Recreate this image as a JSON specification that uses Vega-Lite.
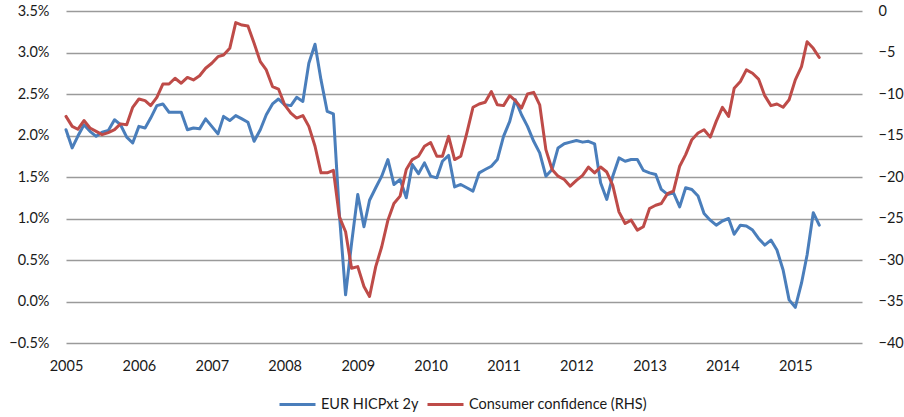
{
  "$schema": "https://vega.github.io/schema/vega-lite/v6.json",
  "width": 796,
  "height": 332,
  "autosize": {"type": "none"},
  "padding": {"left": 66, "top": 11, "right": 42, "bottom": 74},
  "config": {
    "view": {"stroke": null},
    "font": "Lato",
    "axis": {"labelFont": "Lato", "labelFontSize": 14.5, "labelColor": "#1a1a1a", "domain": false, "ticks": false, "title": null},
    "legend": {"labelFont": "Lato", "labelFontSize": 14.5, "labelColor": "#1a1a1a"}
  },
  "data": {"values": [
    {"d":"2005/01/01","hicp":2.07,"cc":-12.7},{"d":"2005/02/01","hicp":1.85,"cc":-13.9},{"d":"2005/03/01","hicp":1.99,"cc":-14.25},{"d":"2005/04/01","hicp":2.13,"cc":-13.2},{"d":"2005/05/01","hicp":2.05,"cc":-14.1},{"d":"2005/06/01","hicp":1.99,"cc":-14.5},{"d":"2005/07/01","hicp":2.04,"cc":-14.9},{"d":"2005/08/01","hicp":2.06,"cc":-14.65},{"d":"2005/09/01","hicp":2.19,"cc":-14.3},{"d":"2005/10/01","hicp":2.13,"cc":-13.6},{"d":"2005/11/01","hicp":1.98,"cc":-13.7},{"d":"2005/12/01","hicp":1.91,"cc":-11.6},
    {"d":"2006/01/01","hicp":2.11,"cc":-10.6},{"d":"2006/02/01","hicp":2.09,"cc":-10.8},{"d":"2006/03/01","hicp":2.21,"cc":-11.4},{"d":"2006/04/01","hicp":2.36,"cc":-10.4},{"d":"2006/05/01","hicp":2.38,"cc":-8.8},{"d":"2006/06/01","hicp":2.28,"cc":-8.8},{"d":"2006/07/01","hicp":2.28,"cc":-8.1},{"d":"2006/08/01","hicp":2.28,"cc":-8.7},{"d":"2006/09/01","hicp":2.07,"cc":-8.0},{"d":"2006/10/01","hicp":2.09,"cc":-8.3},{"d":"2006/11/01","hicp":2.08,"cc":-7.8},{"d":"2006/12/01","hicp":2.20,"cc":-6.9},
    {"d":"2007/01/01","hicp":2.11,"cc":-6.3},{"d":"2007/02/01","hicp":2.02,"cc":-5.5},{"d":"2007/03/01","hicp":2.23,"cc":-5.3},{"d":"2007/04/01","hicp":2.18,"cc":-4.5},{"d":"2007/05/01","hicp":2.24,"cc":-1.4},{"d":"2007/06/01","hicp":2.20,"cc":-1.7},{"d":"2007/07/01","hicp":2.16,"cc":-1.8},{"d":"2007/08/01","hicp":1.93,"cc":-3.9},{"d":"2007/09/01","hicp":2.07,"cc":-6.1},{"d":"2007/10/01","hicp":2.25,"cc":-7.1},{"d":"2007/11/01","hicp":2.38,"cc":-9.1},{"d":"2007/12/01","hicp":2.44,"cc":-9.4},
    {"d":"2008/01/01","hicp":2.37,"cc":-11.3},{"d":"2008/02/01","hicp":2.36,"cc":-12.3},{"d":"2008/03/01","hicp":2.46,"cc":-12.9},{"d":"2008/04/01","hicp":2.41,"cc":-12.6},{"d":"2008/05/01","hicp":2.87,"cc":-13.9},{"d":"2008/06/01","hicp":3.10,"cc":-16.3},{"d":"2008/07/01","hicp":2.67,"cc":-19.5},{"d":"2008/08/01","hicp":2.29,"cc":-19.5},{"d":"2008/09/01","hicp":2.26,"cc":-19.2},{"d":"2008/10/01","hicp":1.05,"cc":-24.8},{"d":"2008/11/01","hicp":0.08,"cc":-26.6},{"d":"2008/12/01","hicp":0.70,"cc":-31.0},
    {"d":"2009/01/01","hicp":1.29,"cc":-30.8},{"d":"2009/02/01","hicp":0.90,"cc":-33.2},{"d":"2009/03/01","hicp":1.22,"cc":-34.4},{"d":"2009/04/01","hicp":1.37,"cc":-30.8},{"d":"2009/05/01","hicp":1.51,"cc":-28.4},{"d":"2009/06/01","hicp":1.71,"cc":-25.2},{"d":"2009/07/01","hicp":1.41,"cc":-23.2},{"d":"2009/08/01","hicp":1.47,"cc":-22.3},{"d":"2009/09/01","hicp":1.25,"cc":-19.1},{"d":"2009/10/01","hicp":1.65,"cc":-17.9},{"d":"2009/11/01","hicp":1.54,"cc":-17.5},{"d":"2009/12/01","hicp":1.67,"cc":-16.3},
    {"d":"2010/01/01","hicp":1.51,"cc":-15.85},{"d":"2010/02/01","hicp":1.49,"cc":-17.5},{"d":"2010/03/01","hicp":1.69,"cc":-17.5},{"d":"2010/04/01","hicp":1.76,"cc":-15.1},{"d":"2010/05/01","hicp":1.38,"cc":-17.9},{"d":"2010/06/01","hicp":1.41,"cc":-17.5},{"d":"2010/07/01","hicp":1.37,"cc":-14.7},{"d":"2010/08/01","hicp":1.33,"cc":-11.6},{"d":"2010/09/01","hicp":1.55,"cc":-11.2},{"d":"2010/10/01","hicp":1.59,"cc":-11.0},{"d":"2010/11/01","hicp":1.63,"cc":-9.7},{"d":"2010/12/01","hicp":1.71,"cc":-11.3},
    {"d":"2011/01/01","hicp":1.99,"cc":-11.4},{"d":"2011/02/01","hicp":2.17,"cc":-10.2},{"d":"2011/03/01","hicp":2.43,"cc":-10.8},{"d":"2011/04/01","hicp":2.25,"cc":-11.7},{"d":"2011/05/01","hicp":2.11,"cc":-10.0},{"d":"2011/06/01","hicp":1.93,"cc":-9.8},{"d":"2011/07/01","hicp":1.79,"cc":-11.3},{"d":"2011/08/01","hicp":1.51,"cc":-16.7},{"d":"2011/09/01","hicp":1.59,"cc":-19.1},{"d":"2011/10/01","hicp":1.85,"cc":-19.9},{"d":"2011/11/01","hicp":1.90,"cc":-20.3},{"d":"2011/12/01","hicp":1.92,"cc":-21.1},
    {"d":"2012/01/01","hicp":1.94,"cc":-20.4},{"d":"2012/02/01","hicp":1.92,"cc":-19.8},{"d":"2012/03/01","hicp":1.93,"cc":-18.8},{"d":"2012/04/01","hicp":1.90,"cc":-19.5},{"d":"2012/05/01","hicp":1.43,"cc":-18.8},{"d":"2012/06/01","hicp":1.23,"cc":-19.4},{"d":"2012/07/01","hicp":1.51,"cc":-21.0},{"d":"2012/08/01","hicp":1.73,"cc":-24.2},{"d":"2012/09/01","hicp":1.69,"cc":-25.6},{"d":"2012/10/01","hicp":1.71,"cc":-25.2},{"d":"2012/11/01","hicp":1.71,"cc":-26.4},{"d":"2012/12/01","hicp":1.58,"cc":-26.0},
    {"d":"2013/01/01","hicp":1.55,"cc":-23.8},{"d":"2013/02/01","hicp":1.53,"cc":-23.4},{"d":"2013/03/01","hicp":1.35,"cc":-23.2},{"d":"2013/04/01","hicp":1.29,"cc":-22.0},{"d":"2013/05/01","hicp":1.31,"cc":-21.7},{"d":"2013/06/01","hicp":1.14,"cc":-18.7},{"d":"2013/07/01","hicp":1.37,"cc":-17.3},{"d":"2013/08/01","hicp":1.35,"cc":-15.5},{"d":"2013/09/01","hicp":1.27,"cc":-14.7},{"d":"2013/10/01","hicp":1.06,"cc":-14.3},{"d":"2013/11/01","hicp":0.98,"cc":-15.2},{"d":"2013/12/01","hicp":0.92,"cc":-13.3},
    {"d":"2014/01/01","hicp":0.97,"cc":-11.6},{"d":"2014/02/01","hicp":1.00,"cc":-12.7},{"d":"2014/03/01","hicp":0.81,"cc":-9.3},{"d":"2014/04/01","hicp":0.92,"cc":-8.5},{"d":"2014/05/01","hicp":0.91,"cc":-7.1},{"d":"2014/06/01","hicp":0.86,"cc":-7.5},{"d":"2014/07/01","hicp":0.76,"cc":-8.2},{"d":"2014/08/01","hicp":0.68,"cc":-10.2},{"d":"2014/09/01","hicp":0.74,"cc":-11.4},{"d":"2014/10/01","hicp":0.62,"cc":-11.2},{"d":"2014/11/01","hicp":0.38,"cc":-11.6},{"d":"2014/12/01","hicp":0.02,"cc":-10.7},
    {"d":"2015/01/01","hicp":-0.07,"cc":-8.3},{"d":"2015/02/01","hicp":0.22,"cc":-6.7},{"d":"2015/03/01","hicp":0.56,"cc":-3.7},{"d":"2015/04/01","hicp":1.07,"cc":-4.5},{"d":"2015/05/01","hicp":0.92,"cc":-5.6}
  ]},
  "encoding": {
    "x": {
      "field": "d",
      "type": "temporal",
      "scale": {"domain": [{"year": 2005, "month": 1, "date": 1}, {"year": 2015, "month": 12, "date": 1}]},
      "axis": {"format": "%Y", "tickCount": {"interval": "year", "step": 1}, "grid": false, "labelPadding": 16, "labelFlush": false}
    }
  },
  "layer": [
    {
      "mark": {"type": "line", "strokeWidth": 3, "strokeJoin": "round", "strokeCap": "round"},
      "encoding": {
        "y": {
          "field": "hicp",
          "type": "quantitative",
          "scale": {"domain": [-0.5, 3.5], "nice": false, "zero": false},
          "axis": {"values": [-0.5, 0, 0.5, 1, 1.5, 2, 2.5, 3, 3.5], "labelExpr": "format(datum.value, '.1f') + '%'", "grid": true, "gridColor": "#9a9a9a", "gridWidth": 1.4, "labelPadding": 17}
        },
        "color": {
          "datum": "EUR HICPxt 2y",
          "type": "nominal",
          "scale": {"domain": ["EUR HICPxt 2y", "Consumer confidence (RHS)"], "range": ["#4a7ebb", "#be4b48"]},
          "legend": {"orient": "none", "legendX": 212, "legendY": 374, "direction": "horizontal", "title": null, "symbolType": "stroke", "symbolStrokeWidth": 3, "symbolSize": 1296, "columnPadding": 2, "labelOffset": 4, "labelLimit": 0}
        }
      }
    },
    {
      "mark": {"type": "line", "strokeWidth": 3, "strokeJoin": "round", "strokeCap": "round"},
      "encoding": {
        "y": {
          "field": "cc",
          "type": "quantitative",
          "scale": {"domain": [-40, 0], "nice": false, "zero": false},
          "axis": {"orient": "right", "values": [-40, -35, -30, -25, -20, -15, -10, -5, 0], "grid": false, "labelPadding": 16}
        },
        "color": {"datum": "Consumer confidence (RHS)", "type": "nominal"}
      }
    }
  ],
  "resolve": {"scale": {"y": "independent"}}
}
